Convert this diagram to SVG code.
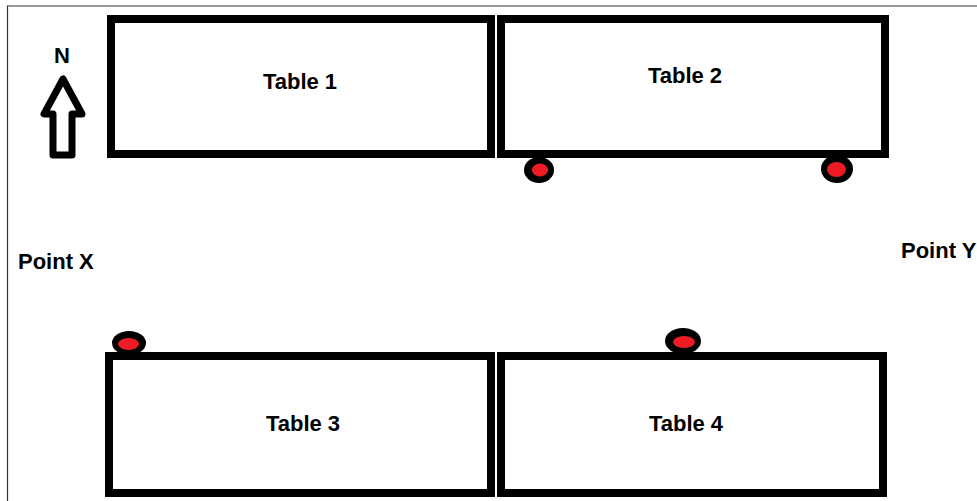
<svg xmlns="http://www.w3.org/2000/svg" width="977" height="501" viewBox="0 0 977 501">
<style>
.tbl{fill:#fff;stroke:#000;stroke-width:8}
.lbl{font-family:"Liberation Sans",Arial,sans-serif;font-weight:bold;font-size:22px;fill:#000}
.outer{fill:#000}
.inner{fill:#ed1c24}
</style>
<rect x="0" y="0" width="977" height="501" fill="#fff"/>
<g id="frame" fill="none" stroke="#333" stroke-width="1.2">
<polyline points="977,6 7.5,6 7.5,501"/>
</g>
<g id="table1"><rect class="tbl" x="111" y="19" width="380" height="135"/><text class="lbl" x="300" y="89" text-anchor="middle">Table 1</text></g>
<g id="table2"><rect class="tbl" x="501" y="19" width="384" height="135"/><text class="lbl" x="685" y="83" text-anchor="middle">Table 2</text></g>
<g id="table3"><rect class="tbl" x="109" y="356" width="382" height="137"/><text class="lbl" x="303" y="431" text-anchor="middle">Table 3</text></g>
<g id="table4"><rect class="tbl" x="501" y="356" width="382" height="137"/><text class="lbl" x="686" y="431" text-anchor="middle">Table 4</text></g>
<g id="north">
<polygon points="63,79 44,114 53,114 53,155 72,155 72,114 82,114" fill="#fff" stroke="#000" stroke-width="7" stroke-linejoin="round"/>
<text class="lbl" x="62" y="63" text-anchor="middle" font-size="17">N</text>
</g>
<g id="pointX"><text class="lbl" x="18" y="269">Point X</text></g>
<g id="pointY"><text class="lbl" x="901" y="258">Point Y</text></g>
<g id="dot1"><ellipse class="outer" cx="539" cy="170" rx="15" ry="13"/><ellipse class="inner" cx="540" cy="170" rx="8" ry="6.5"/></g>
<g id="dot2"><ellipse class="outer" cx="837" cy="169" rx="16" ry="14"/><ellipse class="inner" cx="836.5" cy="169.5" rx="9.5" ry="7.5"/></g>
<g id="dot3"><ellipse class="outer" cx="129" cy="343" rx="17" ry="12"/><ellipse class="inner" cx="128.5" cy="344" rx="10.5" ry="6"/></g>
<g id="dot4"><ellipse class="outer" cx="683" cy="341" rx="18" ry="13"/><ellipse class="inner" cx="684" cy="342" rx="11" ry="6"/></g>
</svg>
